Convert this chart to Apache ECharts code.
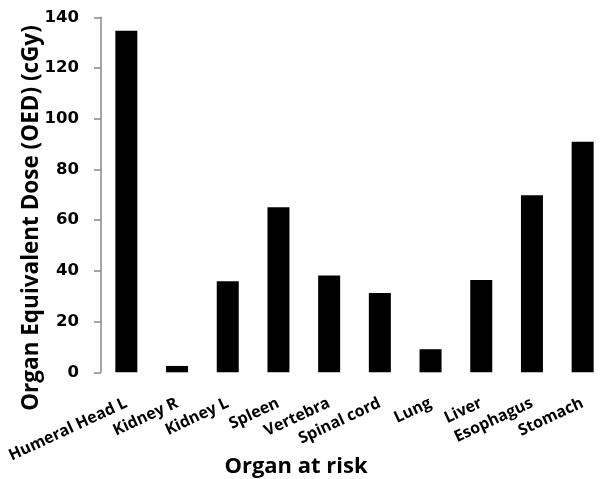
<!DOCTYPE html>
<html><head><meta charset="utf-8">
<script src="https://cdn.jsdelivr.net/npm/echarts@6/dist/echarts.min.js"></script>
<style>html,body{margin:0;padding:0;background:#fff}#c{width:608px;height:479px}</style>
</head><body><div id="c"></div>
<script>
const categories = ['Humeral Head L','Kidney R','Kidney L','Spleen','Vertebra','Spinal cord','Lung','Liver','Esophagus','Stomach'];
const oedValues = [134.7, 2.5, 35.9, 65.1, 38.2, 31.3, 9.1, 36.4, 69.8, 90.9];
const yTicks = [0, 20, 40, 60, 80, 100, 120, 140];
const yTitle = 'Organ Equivalent Dose (OED) (cGy)';
const xTitle = 'Organ at risk';
const FONT = '"Open Sans", sans-serif';
const NUMFONT = '"DejaVu Sans", sans-serif';
const chart = echarts.init(document.getElementById('c'));
chart.setOption({
  animation: false,
  backgroundColor: '#fff',
  grid: { left: 101, right: -15, top: 17.3, bottom: 106.7 },
  xAxis: {
    type: 'category', data: categories,
    axisLine: { show: false }, axisTick: { show: false },
    axisLabel: { interval: 0, rotate: 25, margin: 30, color: '#000', fontWeight: 'bold', fontSize: 16, fontFamily: FONT }
  },
  yAxis: {
    type: 'value', min: yTicks[0], max: yTicks[yTicks.length-1], interval: 20,
    axisLine: { show: true, lineStyle: { color: '#888', width: 1.5 } },
    axisTick: { show: true, length: 7, lineStyle: { color: '#888', width: 1.5 } },
    splitLine: { show: false },
    axisLabel: { margin: 22, color: '#000', fontWeight: 'bold', fontSize: 16.5, fontFamily: NUMFONT }
  },
  series: [{ type: 'bar', data: oedValues, barWidth: 22, itemStyle: { color: '#000' } }],
  graphic: [
    { type: 'text', x: 32, y: 218, rotation: Math.PI/2,
      style: { text: yTitle, fill: '#000', font: 'bold 22.5px ' + FONT, textAlign: 'center', textVerticalAlign: 'middle' } },
    { type: 'text', x: 296, y: 467,
      style: { text: xTitle, fill: '#000', font: 'bold 22px ' + FONT, textAlign: 'center', textVerticalAlign: 'middle' } }
  ]
});
</script></body></html>
